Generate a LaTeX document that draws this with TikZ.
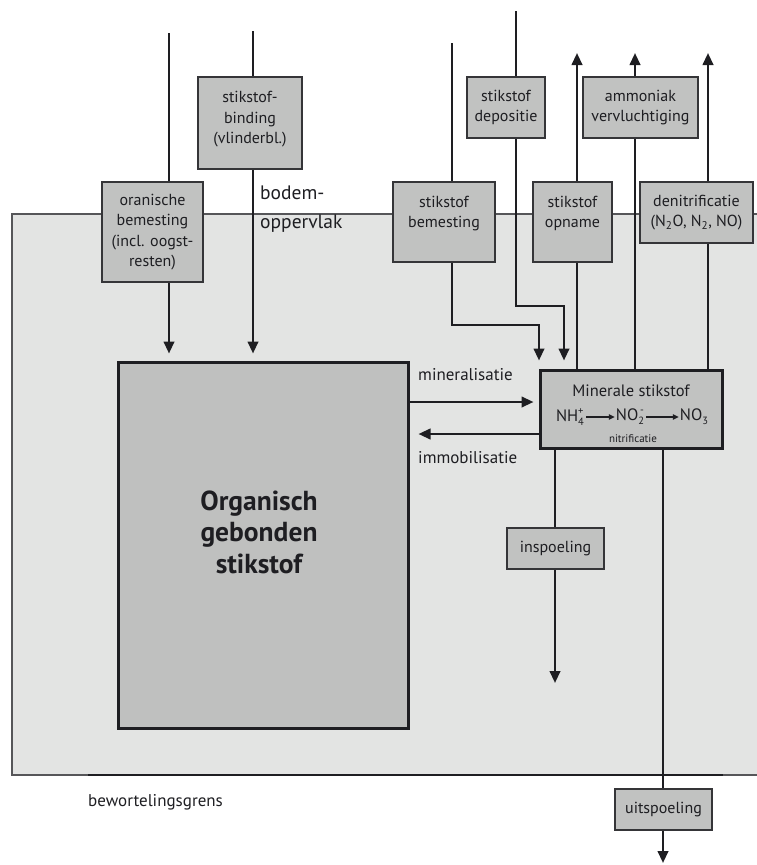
\documentclass[tikz,border=0pt]{standalone}
\usepackage{fontspec}
\setmainfont{PT Sans}
\usetikzlibrary{arrows.meta}
\pgfdeclarelayer{soil}
\pgfdeclarelayer{lines}
\pgfsetlayers{soil,lines,main}
\definecolor{soilfill}{HTML}{E3E4E3}
\definecolor{boxfill}{HTML}{C1C2C1}
\definecolor{orgfill}{HTML}{BFC0BF}
\definecolor{ink}{HTML}{1E1E22}
\newcommand{\chemsub}[1]{\raisebox{-4pt}{\fontsize{10.5}{11}\selectfont #1}}
\newcommand{\chemsup}[1]{\rlap{\raisebox{7pt}{\fontsize{10.5}{11}\selectfont #1}}}
\begin{document}
\begin{tikzpicture}[x=1pt,y=-1pt,
  box/.style={draw=ink!90, line width=1.5pt, fill=boxfill, inner sep=0pt, align=center,
    text=ink, font=\fontsize{16}{20.5}\selectfont},
  bigbox/.style={draw=ink, line width=3pt, fill=orgfill, inner sep=0pt},
  flow/.style={draw=ink, line width=2.4pt},
  arr/.style={flow, -{Triangle[width=10.5pt,length=12pt]}},
  lbl/.style={text=ink, inner sep=0pt, font=\fontsize{17}{20}\selectfont},
  chem/.style={text=ink, inner sep=0pt, font=\fontsize{16.5}{18}\selectfont}]
\useasboundingbox (0,0) rectangle (757,865);

% soil layer
\begin{pgfonlayer}{soil}
  \fill[soilfill] (12,214) rectangle (757,775);
  \draw[line width=1.3pt, draw=ink!75] (757,214) -- (12,214) -- (12,775) -- (757,775);
  \draw[line width=2.2pt, draw=ink] (88,775) -- (723,775);
\end{pgfonlayer}

% boxes
\node[box, minimum width=101pt, minimum height=100pt] (orgbem) at (152.5,232)
  {oranische\\bemesting\\(incl. oogst-\\resten)};
\node[box, minimum width=104pt, minimum height=92pt] (binding) at (250,123)
  {stikstof-\\binding\\(vlinderbl.)\\[-10pt]\mbox{}};
\node[box, minimum width=102pt, minimum height=80pt] (bemest) at (444,222)
  {stikstof\\bemesting\\\mbox{}};
\node[box, minimum width=78pt, minimum height=61pt] (depos) at (506,107.5)
  {stikstof\\depositie};
\node[box, minimum width=79pt, minimum height=80pt] (opname) at (572.5,222)
  {stikstof\\opname\\\mbox{}};
\node[box, minimum width=115pt, minimum height=61pt] (ammon) at (640.5,107.5)
  {ammoniak\\vervluchtiging};
\node[box, minimum width=113pt, minimum height=61pt] (denit) at (696.5,212.5)
  {denitrificatie\\(N\textsubscript{2}O, N\textsubscript{2}, NO)};
\node[box, minimum width=97pt, minimum height=41pt] (insp) at (555.5,548.5) {inspoeling};
\node[box, minimum width=97pt, minimum height=41pt] (uitsp) at (663.5,809.5) {uitspoeling};

\node[bigbox, minimum width=290pt, minimum height=366pt] (org) at (263,545) {};
\node[text=ink, align=center, font=\bfseries\fontsize{27.5}{31.5}\selectfont] (orgtext) at (259,532)
  {Organisch\\gebonden\\stikstof};

\node[bigbox, fill=boxfill, minimum width=182pt, minimum height=78pt] (min) at (631,409) {};
\node[chem] (mintitle) at (631,391) {Minerale stikstof};
\node[chem] (nh4) at (570,417) {NH\chemsup{+}\chemsub{4}};
\node[chem] (no2) at (630,417) {NO\chemsup{\,-}\chemsub{2}};
\node[chem] (no3) at (694,417) {NO\chemsub{3}};
\node[text=ink, inner sep=0pt, font=\fontsize{11}{12}\selectfont] (nitr) at (633,438.5) {nitrificatie};
\draw[draw=ink, line width=1.2pt, -{Triangle[width=5.5pt,length=6pt]}, shorten <=2pt, shorten >=1pt] (nh4) -- (no2);
\draw[draw=ink, line width=1.2pt, -{Triangle[width=5.5pt,length=6pt]}, shorten <=2pt, shorten >=1pt] (no2) -- (no3);

% labels
\node[text=ink, align=left, anchor=north west, inner sep=0pt,
  font=\fontsize{19.5}{29}\selectfont] (bodem) at (260,186) {bodem-\\oppervlak};
\node[lbl, anchor=west] (minlbl) at (418,375) {mineralisatie};
\node[lbl, anchor=west] (immlbl) at (418,458) {immobilisatie};
\node[lbl, anchor=west] (bewort) at (88,802) {bewortelingsgrens};

% connectors
\coordinate (s1) at (169,33);
\coordinate (s2) at (253,31);
\coordinate (s3) at (452,43);
\coordinate (k3) at (539,325);
\coordinate (s4) at (516,11);
\coordinate (k4) at (564,306);
\coordinate (e5) at (577,53);
\coordinate (e6) at (635,53);
\coordinate (e7) at (708,53);
\coordinate (m1) at (0,402);
\coordinate (m2) at (0,434);
\coordinate (e10) at (555,683);
\coordinate (e11) at (663,863);
\begin{pgfonlayer}{lines}
  \draw[arr, shorten >=7pt] (s1) -- (s1 |- org.north);
  \draw[arr, shorten >=7pt] (s2) -- (s2 |- org.north);
  \draw[arr, shorten >=8pt] (s3) |- (k3) -- (k3 |- min.north);
  \draw[arr, shorten >=8pt] (s4) |- (k4) -- (k4 |- min.north);
  \draw[arr] (e5 |- min.north) -- (e5);
  \draw[arr] (e6 |- min.north) -- (e6);
  \draw[arr] (e7 |- min.north) -- (e7);
  \draw[arr, shorten >=5pt] (org.east |- m1) -- (min.west |- m1);
  \draw[arr, shorten >=9pt] (min.west |- m2) -- (org.east |- m2);
  \draw[arr] (e10 |- min.south) -- (e10);
  \draw[arr] (e11 |- min.south) -- (e11);
\end{pgfonlayer}
\end{tikzpicture}
\end{document}
